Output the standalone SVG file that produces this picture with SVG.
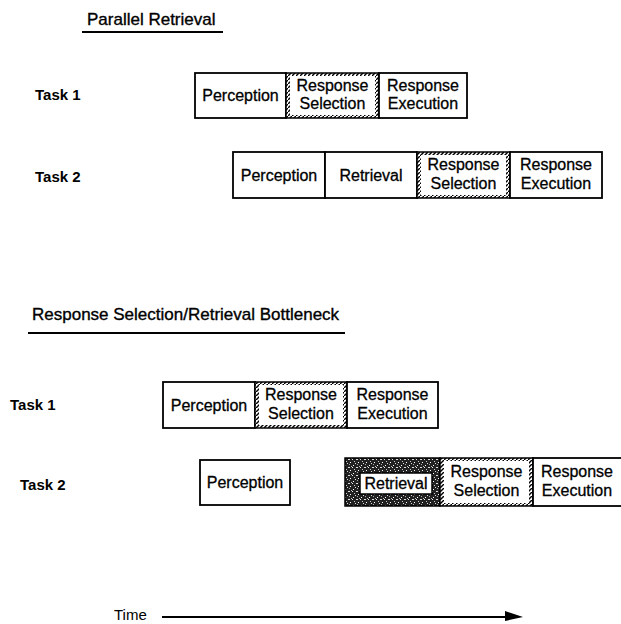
<svg xmlns="http://www.w3.org/2000/svg" width="621" height="624" viewBox="0 0 621 624">
<style>
  .t{font-family:"Liberation Sans",Arial,sans-serif;fill:#000}
  .title{font-size:17px;stroke:#000;stroke-width:0.35}
  .task{font-size:15px;font-weight:bold}
  .lbl{font-size:16px;text-anchor:middle;stroke:#000;stroke-width:0.3}
  .box{fill:#fff;stroke:#000;stroke-width:1.8}
  .uline{stroke:#000;stroke-width:1.8}
</style>
<defs>
  <pattern id="hatch" patternUnits="userSpaceOnUse" width="4" height="4">
    <rect width="4" height="4" fill="#fff"/>
    <path d="M-1,5 L5,-1" stroke="#000" stroke-width="1.4"/>
  </pattern>
  <pattern id="stip" patternUnits="userSpaceOnUse" width="8" height="8">
    <rect width="8" height="8" fill="#222"/>
    <rect x="1" y="1" width="1" height="1" fill="#fff"/>
    <rect x="4" y="3" width="2" height="1" fill="#ddd"/>
    <rect x="2" y="5" width="1" height="1" fill="#ccc"/>
    <rect x="6" y="6" width="1" height="1" fill="#fff"/>
    <rect x="5" y="0" width="1" height="1" fill="#aaa"/>
    <rect x="0" y="3" width="1" height="1" fill="#eee"/>
    <rect x="7" y="2" width="1" height="1" fill="#bbb"/>
    <rect x="3" y="7" width="1" height="1" fill="#ddd"/>
  </pattern>
</defs>

<g id="title-parallel">
  <text class="t title" x="87" y="25">Parallel Retrieval</text>
  <line class="uline" x1="82" y1="32" x2="223" y2="32"/>
</g>

<g id="top-task1">
  <text class="t task" x="35" y="100">Task 1</text>
  <g id="top-t1-perception">
    <rect class="box" x="195" y="73" width="91" height="45"/>
    <text class="t lbl" x="240.5" y="101">Perception</text>
  </g>
  <g id="top-t1-selection">
    <rect x="286" y="73" width="93" height="45" fill="url(#hatch)" stroke="#000" stroke-width="1.5"/>
    <rect x="290" y="76" width="85" height="39" fill="#fff"/>
    <text class="t lbl" x="332.5" y="91">Response</text>
    <text class="t lbl" x="332.5" y="109">Selection</text>
  </g>
  <g id="top-t1-execution">
    <rect class="box" x="379" y="73" width="88" height="45"/>
    <text class="t lbl" x="423" y="91">Response</text>
    <text class="t lbl" x="423" y="109">Execution</text>
  </g>
</g>

<g id="top-task2">
  <text class="t task" x="35" y="182">Task 2</text>
  <g id="top-t2-perception">
    <rect class="box" x="233" y="152" width="92" height="46"/>
    <text class="t lbl" x="279" y="181">Perception</text>
  </g>
  <g id="top-t2-retrieval">
    <rect class="box" x="325" y="152" width="92" height="46"/>
    <text class="t lbl" x="371" y="181">Retrieval</text>
  </g>
  <g id="top-t2-selection">
    <rect x="417" y="152" width="93" height="46" fill="url(#hatch)" stroke="#000" stroke-width="1.5"/>
    <rect x="421" y="155" width="85" height="40" fill="#fff"/>
    <text class="t lbl" x="463.5" y="170">Response</text>
    <text class="t lbl" x="463.5" y="189">Selection</text>
  </g>
  <g id="top-t2-execution">
    <rect class="box" x="510" y="152" width="92" height="46"/>
    <text class="t lbl" x="556" y="170">Response</text>
    <text class="t lbl" x="556" y="189">Execution</text>
  </g>
</g>

<g id="title-bottleneck">
  <text class="t title" x="32" y="320">Response Selection/Retrieval Bottleneck</text>
  <line class="uline" x1="28" y1="333" x2="345" y2="333"/>
</g>

<g id="bot-task1">
  <text class="t task" x="10" y="410">Task 1</text>
  <g id="bot-t1-perception">
    <rect class="box" x="163" y="382" width="92" height="46"/>
    <text class="t lbl" x="209" y="411">Perception</text>
  </g>
  <g id="bot-t1-selection">
    <rect x="255" y="382" width="92" height="46" fill="url(#hatch)" stroke="#000" stroke-width="1.5"/>
    <rect x="259" y="385" width="84" height="40" fill="#fff"/>
    <text class="t lbl" x="301" y="400">Response</text>
    <text class="t lbl" x="301" y="419">Selection</text>
  </g>
  <g id="bot-t1-execution">
    <rect class="box" x="347" y="382" width="91" height="46"/>
    <text class="t lbl" x="392.5" y="400">Response</text>
    <text class="t lbl" x="392.5" y="419">Execution</text>
  </g>
</g>

<g id="bot-task2">
  <text class="t task" x="20" y="490">Task 2</text>
  <g id="bot-t2-perception">
    <rect class="box" x="200" y="460" width="90" height="45"/>
    <text class="t lbl" x="245" y="488">Perception</text>
  </g>
  <g id="bot-t2-retrieval">
    <rect x="345" y="458" width="95" height="48" fill="url(#stip)" stroke="#000" stroke-width="1.5"/>
    <rect x="360" y="473" width="72" height="21" fill="#fff" stroke="#000" stroke-width="1.5"/>
    <text class="t lbl" x="396" y="489">Retrieval</text>
  </g>
  <g id="bot-t2-selection">
    <rect x="440" y="458" width="93" height="48" fill="url(#hatch)" stroke="#000" stroke-width="1.5"/>
    <rect x="444" y="461" width="85" height="42" fill="#fff"/>
    <text class="t lbl" x="486.5" y="477">Response</text>
    <text class="t lbl" x="486.5" y="496">Selection</text>
  </g>
  <g id="bot-t2-execution">
    <rect class="box" x="533" y="458" width="92" height="48"/>
    <text class="t lbl" x="577" y="477">Response</text>
    <text class="t lbl" x="577" y="496">Execution</text>
  </g>
</g>

<g id="time">
  <text class="t" x="114" y="620" style="font-size:15px">Time</text>
</g>

<g id="connectors">
  <line x1="162" y1="617" x2="508" y2="617" stroke="#000" stroke-width="1.8"/>
  <path d="M505,611 L523,617 L505,621 Z" fill="#000"/>
</g>
</svg>
